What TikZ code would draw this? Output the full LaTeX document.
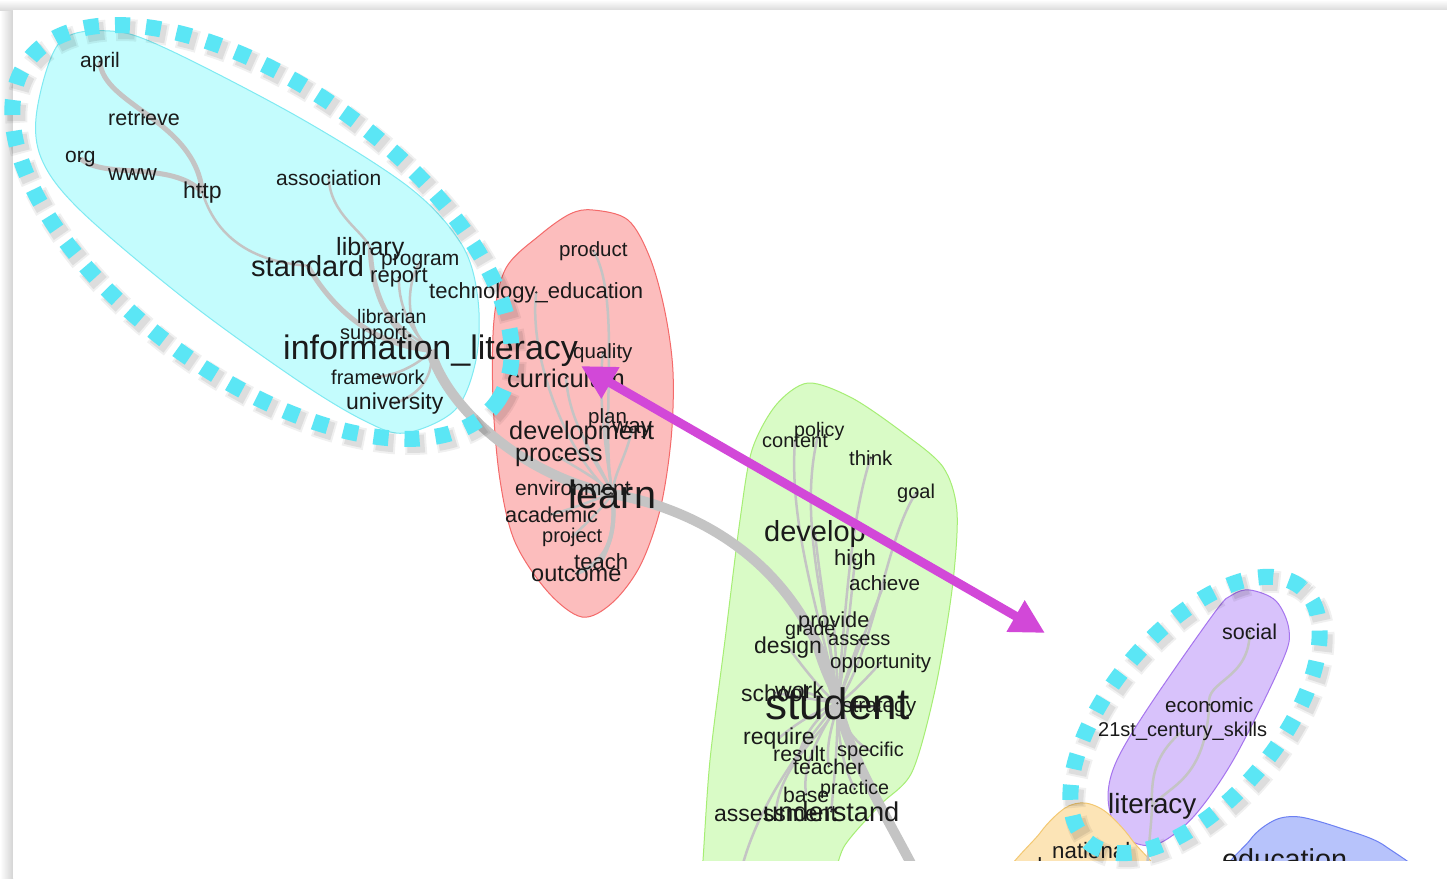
\documentclass[tikz,border=0pt]{standalone}
\usepackage{fontspec}
\setmainfont{Liberation Sans}
\usetikzlibrary{arrows.meta}
\definecolor{cyanfill}{HTML}{C4FCFD}
\definecolor{cyanline}{HTML}{7FEAF2}
\definecolor{redfill}{HTML}{FCBDBD}
\definecolor{redline}{HTML}{F46A6A}
\definecolor{greenfill}{HTML}{D9FBC6}
\definecolor{greenline}{HTML}{A6EE74}
\definecolor{purpfill}{HTML}{D8C2FB}
\definecolor{purpline}{HTML}{A574EE}
\definecolor{orfill}{HTML}{FCE4B6}
\definecolor{orline}{HTML}{F3C872}
\definecolor{bluefill}{HTML}{B7C3FB}
\definecolor{blueline}{HTML}{6C80F2}
\definecolor{edgec}{HTML}{C4C4C4}
\definecolor{ringc}{HTML}{5BE6F5}
\definecolor{magc}{HTML}{D248D8}
\definecolor{wordc}{HTML}{1A1A1A}
\pgfdeclarelayer{hullsl}
\pgfdeclarelayer{edgesl}
\pgfsetlayers{hullsl,edgesl,main}
\tikzset{
 word/.style={inner sep=0pt, anchor=base west, text=wordc, font=\fontsize{#1}{#1}\selectfont},
 hull/.style 2 args={fill=#1, draw=#2, line width=1pt},
 ethin/.style={draw=edgec, line width=2.5pt},
 emid/.style={draw=edgec, line width=5pt},
 ethick/.style={draw=edgec, line width=10pt},
 ring/.style={draw=ringc, line width=16pt, dash pattern=on 15pt off 16pt},
 ringshadowA/.style={draw=black, opacity=0.06, line width=22pt, dash pattern=on 21pt off 10pt, dash phase=3pt},
 ringshadowB/.style={draw=black, opacity=0.08, line width=18pt, dash pattern=on 17pt off 14pt, dash phase=1pt},
 centerdot/.style={fill=black!80},
}
\begin{document}
\begin{tikzpicture}[x=1pt,y=-1pt]
\useasboundingbox (0,0) rectangle (1447,878);

\begin{pgfonlayer}{hullsl}
\fill[white] (0,0) rectangle (1447,878);
\shade[left color=white, right color=black!17] (0,0) rectangle (13,878);
\shade[top color=white, bottom color=black!14] (0,0) rectangle (1447,10);
\fill[white] (13,10) rectangle (1447,878);
\begin{scope}
\clip (13,10) rectangle (1447,860);
\draw[hull={cyanfill}{cyanline}] plot[smooth cycle, tension=0.55] coordinates {
 (60,42) (110,31) (165,48) (300,118) (410,188) (462,245) (478,300) (476,360)
 (455,410) (405,433) (365,421) (300,382) (190,303) (82,212) (42,160) (37,110)};
\draw[hull={redfill}{redline}] plot[smooth cycle, tension=0.55] coordinates {
 (593,210) (628,220) (650,258) (665,312) (673,372) (671,440) (660,510) (640,566)
 (612,603) (582,617) (548,592) (515,542) (500,480) (493,400) (494,320) (506,268)
 (540,235) (570,214)};
\draw[hull={greenfill}{greenline}] plot[smooth cycle, tension=0.5] coordinates {
 (808,383) (852,398) (902,432) (943,467) (957,512) (952,590) (935,690) (912,772)
 (880,805) (845,845) (815,900) (700,900) (703,860) (710,760) (725,640) (740,520)
 (752,450) (776,405)};
\draw[hull={purpfill}{purpline}] plot[smooth cycle, tension=0.55] coordinates {
 (1250,590) (1276,601) (1289,630) (1282,662) (1235,757) (1195,815) (1160,843)
 (1135,843) (1115,826) (1108,795) (1117,760) (1150,705) (1215,612) (1232,595)};
\draw[hull={orfill}{orline}] plot[smooth cycle, tension=0.5] coordinates {
 (1005,890) (1040,833) (1065,808) (1085,803) (1106,812) (1132,840) (1160,890)};
\draw[hull={bluefill}{blueline}] plot[smooth cycle, tension=0.5] coordinates {
 (1225,890) (1250,840) (1275,820) (1300,817) (1340,828) (1385,846) (1425,890)};
\end{scope}
\end{pgfonlayer}

\begin{scope}
\clip (13,10) rectangle (1447,860);
% words
\node[word=21] (april) at (80,67) {april};
\node[word=21.5] (retrieve) at (108,125) {retrieve};
\node[word=21] (org) at (65,162) {org};
\node[word=22.5] (www) at (108,180) {www};
\node[word=23] (http) at (183,198) {http};
\node[word=21] (association) at (276,185) {association};
\node[word=25] (library) at (336,255) {library};
\node[word=21] (program) at (381,265) {program};
\node[word=22] (report) at (370,282) {report};
\node[word=29] (standard) at (251,276) {standard};
\node[word=19.5] (librarian) at (357,323) {librarian};
\node[word=20] (support) at (340,339) {support};
\node[word=34] (infolit) at (283,359) {information\_literacy};
\node[word=20] (framework) at (331,384) {framework};
\node[word=23] (university) at (346,409) {university};

\node[word=22] (techedu) at (429,298) {technology\_education};
\node[word=20.5] (product) at (559,256) {product};
\node[word=20.5] (quality) at (573,358) {quality};
\node[word=25.5] (curriculum) at (507,387) {curriculum};
\node[word=20.5] (plan) at (588,423) {plan};
\node[word=22.5] (way) at (612,433) {way};
\node[word=25.3] (development) at (509,439) {development};
\node[word=25] (process) at (515,461) {process};
\node[word=21] (environment) at (515,495) {environment};
\node[word=39.5] (learn) at (568,508) {learn};
\node[word=21.7] (academic) at (505,522) {academic};
\node[word=20] (project) at (542,542) {project};
\node[word=22] (teach) at (574,569) {teach};
\node[word=23.5] (outcome) at (531,581) {outcome};

\node[word=19.6] (policy) at (794,436) {policy};
\node[word=20] (content) at (762,447) {content};
\node[word=20.4] (think) at (849,465) {think};
\node[word=20] (goal) at (897,498) {goal};
\node[word=29] (develop) at (764,541) {develop};
\node[word=22] (high) at (834,565) {high};
\node[word=20.6] (achieve) at (849,590) {achieve};
\node[word=21.7] (provide) at (798,627) {provide};
\node[word=19.6] (grade) at (785,635) {grade};
\node[word=20] (assess) at (828,645) {assess};
\node[word=23] (design) at (754,653) {design};
\node[word=20.4] (opportunity) at (830,668) {opportunity};
\node[word=23] (school) at (741,701) {school};
\node[word=23] (work) at (775,698) {work};
\node[word=44] (student) at (765,719) {student};
\node[word=20.8] (strategy) at (842,712) {strategy};
\node[word=23] (require) at (743,744) {require};
\node[word=21.3] (result) at (773,761) {result};
\node[word=20] (specific) at (837,756) {specific};
\node[word=21.3] (teacher) at (793,774) {teacher};
\node[word=21.2] (base) at (783,802) {base};
\node[word=19.7] (practice) at (820,794) {practice};
\node[word=23] (assessment) at (714,821) {assessment};
\node[word=27.2] (understand) at (763,821) {understand};

\node[word=21.5] (social) at (1222,639) {social};
\node[word=20.6] (economic) at (1165,712) {economic};
\node[word=20] (skills) at (1098,736) {21st\_century\_skills};
\node[word=27.8] (literacy) at (1108,813) {literacy};
\node[word=22.3] (national) at (1052,858) {national};
\node[word=22] (democracy) at (1030,873) {democracy};
\node[word=28.8] (education) at (1222,869) {education};

\coordinate (sEnd) at (922,885);
\coordinate (gEnd) at (738,885);
\coordinate (lEnd) at (1146,885);

\foreach \n in {april,retrieve,org,www,http,association,library,program,report,standard,librarian,support,infolit,framework,university,techedu,product,quality,curriculum,plan,way,development,process,environment,learn,academic,project,teach,outcome,policy,content,think,goal,develop,high,achieve,provide,grade,assess,design,opportunity,school,work,student,strategy,require,result,specific,teacher,base,practice,assessment,understand,social,economic,skills,literacy,national}
  \fill[centerdot] (\n.center) circle (1.3pt);
\end{scope}

\begin{pgfonlayer}{edgesl}
\begin{scope}
\clip (13,10) rectangle (1447,860);
% cyan edges
\draw[emid] (april.center) .. controls (102,105) and (195,120) .. (http.center);
\draw[emid] (org.center) .. controls (105,180) and (170,160) .. (http.center);
\draw[ethin] (http.center) .. controls (215,235) and (250,262) .. (standard.center);
\draw[ethin] (association.center) .. controls (330,215) and (365,232) .. (library.center);
\draw[emid] (standard.center) .. controls (330,305) and (370,345) .. (infolit.center);
\draw[emid] (library.center) .. controls (372,300) and (395,340) .. (infolit.center);
\draw[ethin] (program.center) .. controls (405,285) and (405,330) .. (infolit.center);
\draw[ethin] (report.center) .. controls (398,310) and (415,335) .. (infolit.center);
\draw[ethin] (librarian.center) .. controls (400,330) and (420,340) .. (infolit.center);
\draw[ethin] (support.center) .. controls (395,340) and (420,345) .. (infolit.center);
\draw[ethin] (framework.center) .. controls (400,375) and (425,360) .. (infolit.center);
\draw[ethin] (university.center) .. controls (420,395) and (435,375) .. (infolit.center);
% main chain
\draw[ethick] (infolit.center) .. controls (445,405) and (520,475) .. (learn.center);
\draw[ethick] (learn.center) .. controls (700,510) and (805,565) .. (student.center);
\draw[ethick] (student.center) .. controls (850,760) and (895,830) .. (sEnd);
% red edges
\draw[ethin] (product.center) .. controls (622,300) and (600,420) .. (learn.center);
\draw[ethin] (techedu.center) .. controls (528,360) and (570,460) .. (learn.center);
\draw[ethin] (quality.center) .. controls (598,400) and (606,450) .. (learn.center);
\draw[ethin] (curriculum.center) .. controls (570,430) and (600,460) .. (learn.center);
\draw[ethin] (plan.center) .. controls (604,450) and (610,470) .. (learn.center);
\draw[ethin] (way.center) .. controls (625,460) and (615,470) .. (learn.center);
\draw[ethin] (development.center) .. controls (590,460) and (605,475) .. (learn.center);
\draw[ethin] (process.center) .. controls (580,470) and (600,480) .. (learn.center);
\draw[ethin] (environment.center) .. controls (585,490) and (600,494) .. (learn.center);
\draw[ethin] (academic.center) .. controls (570,510) and (592,500) .. (learn.center);
\draw[ethin] (project.center) .. controls (590,520) and (605,505) .. (learn.center);
\draw[ethin, line width=4pt] (teach.center) .. controls (612,540) and (616,520) .. (learn.center);
\draw[ethin, line width=4pt] (outcome.center) .. controls (612,560) and (616,530) .. (learn.center);
% green edges
\draw[ethin] (policy.center) .. controls (795,520) and (830,620) .. (student.center);
\draw[ethin] (content.center) .. controls (788,530) and (825,630) .. (student.center);
\draw[ethin] (think.center) .. controls (850,520) and (845,620) .. (student.center);
\draw[ethin] (goal.center) .. controls (885,540) and (875,650) .. (student.center);
\draw[ethin] (develop.center) .. controls (820,580) and (830,640) .. (student.center);
\draw[ethin] (high.center) .. controls (850,610) and (845,660) .. (student.center);
\draw[ethin] (achieve.center) .. controls (870,620) and (850,670) .. (student.center);
\draw[ethin] (provide.center) .. controls (835,650) and (838,680) .. (student.center);
\draw[ethin] (grade.center) .. controls (815,660) and (830,690) .. (student.center);
\draw[ethin] (assess.center) .. controls (850,665) and (842,690) .. (student.center);
\draw[ethin] (design.center) .. controls (805,670) and (825,695) .. (student.center);
\draw[ethin] (opportunity.center) .. controls (865,680) and (848,698) .. (student.center);
\draw[ethin] (school.center) -- (student.center);
\draw[ethin] (work.center) -- (student.center);
\draw[ethin] (strategy.center) -- (student.center);
\draw[ethin] (require.center) .. controls (800,720) and (820,710) .. (student.center);
\draw[ethin] (result.center) .. controls (805,730) and (825,710) .. (student.center);
\draw[ethin] (specific.center) .. controls (850,740) and (842,720) .. (student.center);
\draw[ethin] (teacher.center) .. controls (825,740) and (835,720) .. (student.center);
\draw[ethin] (base.center) .. controls (800,760) and (830,720) .. (student.center);
\draw[ethin] (practice.center) .. controls (840,760) and (838,730) .. (student.center);
\draw[ethin] (assessment.center) .. controls (780,760) and (830,730) .. (student.center);
\draw[ethin] (understand.center) .. controls (835,770) and (838,740) .. (student.center);
\draw[ethin] (student.center) .. controls (790,760) and (750,820) .. (gEnd);
% purple edges
\draw[ethin] (social.center) .. controls (1250,680) and (1205,680) .. (economic.center);
\draw[ethin] (economic.center) .. controls (1205,780) and (1170,785) .. (literacy.center);
\draw[ethin] (skills.center) .. controls (1160,750) and (1150,770) .. (literacy.center);
\draw[ethin] (literacy.center) .. controls (1150,840) and (1147,860) .. (lEnd);
\end{scope}
\end{pgfonlayer}

% dotted rings with soft shadows
\begin{scope}[shift={(266,237)}, rotate=-36]
\draw[ringshadowA] (0,0) ellipse [x radius=290pt, y radius=145pt];
\draw[ringshadowB] (0,0) ellipse [x radius=290pt, y radius=145pt];
\end{scope}
\begin{scope}[shift={(262,232)}, rotate=-36]
\draw[ring] (0,0) ellipse [x radius=290pt, y radius=145pt];
\end{scope}
\begin{scope}[shift={(1199,720)}, rotate=50]
\draw[ringshadowA] (0,0) ellipse [x radius=166pt, y radius=84pt];
\draw[ringshadowB] (0,0) ellipse [x radius=166pt, y radius=84pt];
\end{scope}
\begin{scope}[shift={(1195,715)}, rotate=50]
\draw[ring] (0,0) ellipse [x radius=166pt, y radius=84pt];
\end{scope}

% magenta arrow
\coordinate (aL) at (581,366);
\coordinate (aR) at (1045,633);
\draw[magc, line width=9pt, {Triangle[length=34pt,width=34pt]}-{Triangle[length=34pt,width=34pt]}] (aL) -- (aR);
\end{tikzpicture}
\end{document}
